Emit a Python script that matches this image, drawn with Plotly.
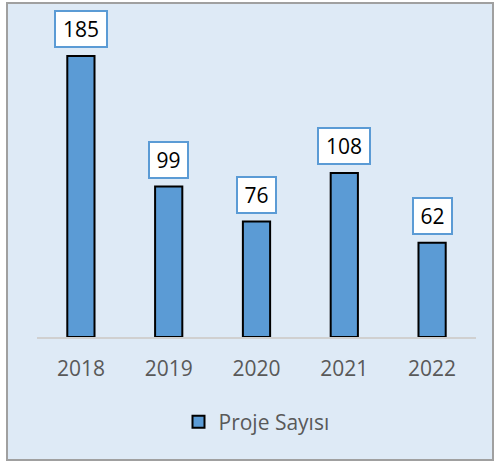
import plotly.graph_objects as go

years = ["2018", "2019", "2020", "2021", "2022"]
projects = [185, 99, 76, 108, 62]
series_name = "Proje Sayısı"

W, H = 500, 462
ml, mr, mt, mb = 37, 24, 20, 125
pw, ph = W - ml - mr, H - mt - mb

FONT = "Open Sans"
bg = "#DEEAF6"

fig = go.Figure()
fig.add_trace(go.Bar(
    x=years, y=projects, name=series_name,
    marker=dict(color="#5B9BD5", line=dict(color="black", width=2)),
    showlegend=True,
))

annotations = []
for i, v in enumerate(projects):
    t = str(v)
    annotations.append(dict(
        x=i, y=v, xref="x", yref="y", text=t, showarrow=False,
        yanchor="bottom", yshift=8,
        font=dict(family=FONT, size=21, color="#000000"),
        bgcolor="white", bordercolor="#5B9BD5", borderwidth=2, borderpad=0,
        width=13 * len(t) + 11, height=34,
    ))

# outer chart-area border
def px2x(px):
    return (px - ml) / pw

def px2y(py):
    return (H - mb - py) / ph

fig.add_shape(type="rect", xref="paper", yref="paper",
              x0=px2x(7), x1=px2x(493), y0=px2y(460), y1=px2y(3),
              fillcolor=bg, line=dict(color="#A0A0A0", width=2), layer="below")

fig.update_layout(
    width=W, height=H,
    margin=dict(l=ml, r=mr, t=mt, b=mb, autoexpand=False),
    paper_bgcolor="white", plot_bgcolor="rgba(0,0,0,0)",
    bargap=0.69,
    annotations=annotations,
    font=dict(family=FONT),
    legend=dict(orientation="h", x=0.5, xanchor="center", y=px2y(422), yanchor="middle",
                font=dict(family=FONT, size=21, color="#595959"),
                bgcolor="rgba(0,0,0,0)"),
    xaxis=dict(type="category", automargin=False, range=[-0.5, len(years) - 0.5],
               showline=True, linecolor="#D0D0D0", linewidth=1.5, showgrid=False,
               ticks="", ticklabelstandoff=12,
               tickfont=dict(family=FONT, size=21, color="#595959")),
    yaxis=dict(range=[0, ph / 1.519], visible=False, showgrid=False, automargin=False),
)

fig.write_html("out.html", config={"displayModeBar": False},
               post_script="document.body.style.margin='0';")
